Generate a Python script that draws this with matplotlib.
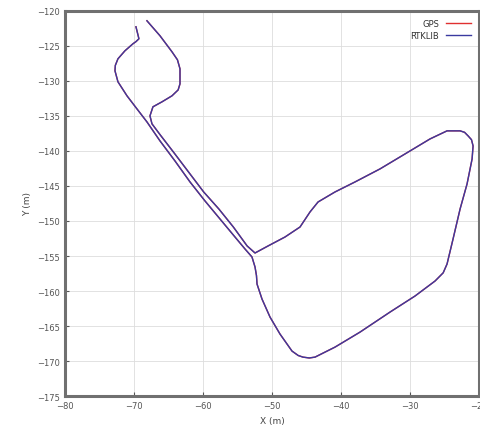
import matplotlib
matplotlib.use("Agg")
import matplotlib.pyplot as plt

# trajectory (metres)
rtk_x = [-69.71, -69.28, -69.70, -70.14, -71.30, -72.32, -72.70, -72.75, -72.32, -71.01, -69.57, -68.12,
         -66.23, -64.06, -61.88, -59.71, -57.54, -55.36, -53.91, -52.90,
         -52.46, -52.25, -52.17, -51.45, -50.29, -48.84, -47.10, -46.20, -45.51, -44.60, -43.77, -40.87, -37.25,
         -32.90, -29.28, -26.38, -25.20, -24.64, -23.77, -22.75, -21.74, -21.01, -20.87, -21.10, -21.59,
         -22.10, -22.75, -24.64, -27.10, -30.72, -34.35, -37.97, -40.87, -43.33, -44.49, -45.94,
         -48.12, -50.58, -52.46,
         -53.60, -55.60, -57.70, -59.90, -62.10, -64.30, -66.20, -67.39, -67.68, -67.25,
         -65.94, -64.49, -63.60, -63.33, -63.33, -63.70, -64.49, -66.23, -68.12]
rtk_y = [-122.29, -124.00, -124.40, -124.71, -125.71, -126.86, -127.80, -128.57, -130.14, -132.14, -134.00, -135.86,
         -138.57, -141.43, -144.43, -147.14, -149.71, -152.29, -154.00, -155.14,
         -156.57, -157.80, -159.00, -161.14, -163.71, -166.14, -168.57, -169.20, -169.43, -169.55, -169.43, -168.00, -165.86,
         -163.00, -160.71, -158.57, -157.40, -156.14, -152.57, -148.29, -144.71, -141.14, -139.29, -138.40, -137.86,
         -137.35, -137.14, -137.14, -138.29, -140.43, -142.57, -144.43, -145.86, -147.29, -148.71, -150.86,
         -152.29, -153.57, -154.57,
         -153.57, -150.86, -148.29, -145.86, -143.00, -140.14, -137.71, -136.14, -135.00, -133.71,
         -133.00, -132.14, -131.30, -130.43, -128.29, -127.00, -125.86, -123.57, -121.43]

# GPS track lies under the RTKLIB one in the picture
gps_x = list(rtk_x)
gps_y = list(rtk_y)

x_ticks = [-80, -70, -60, -50, -40, -30, -20]
y_ticks = [-120, -125, -130, -135, -140, -145, -150, -155, -160, -165, -170, -175]

fig = plt.figure(figsize=(4.81, 4.35), dpi=100)
ax = fig.add_axes([0.135, 0.087, 0.861, 0.886])

ax.plot(gps_x, gps_y, color="#e03030", lw=1.0, label="GPS", solid_joinstyle="round")
ax.plot(rtk_x, rtk_y, color="#3a3aa0", lw=1.0, label="RTKLIB", solid_joinstyle="round")

ax.set_xlim(-80, -20)
ax.set_ylim(-175, -120)
ax.set_xticks(x_ticks)
ax.set_yticks(y_ticks)
ax.tick_params(direction="in", length=3, labelsize=6, colors="#555555")
ax.grid(True, color="#dddddd", lw=0.6)
ax.set_axisbelow(True)
for s in ax.spines.values():
    s.set_color("#707070")
    s.set_linewidth(2.2)

ax.set_xlabel("X (m)", fontsize=6.5, color="#444444")
ax.set_ylabel("Y (m)", fontsize=6.5, color="#444444")

leg = ax.legend(loc="upper right", frameon=False, fontsize=6, markerfirst=False,
                handlelength=3, labelspacing=0.3, borderaxespad=0.6)
for t in leg.get_texts():
    t.set_color("#333333")

fig.savefig("out.png", dpi=100)
